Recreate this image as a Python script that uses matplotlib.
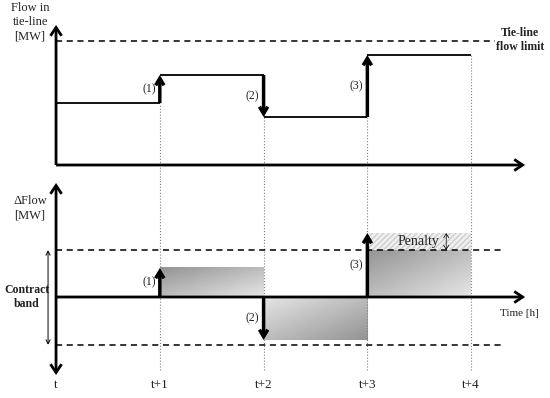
import numpy as np
import matplotlib
matplotlib.use("Agg")
import matplotlib.pyplot as plt
from matplotlib.patches import FancyArrowPatch

plt.rcParams['font.family'] = ['Liberation Serif', 'DejaVu Serif']
plt.rcParams['text.color'] = '#222222'

# ==== data ====
times = [0, 1, 2, 3, 4]
tick_labels = ['t', 't+1', 't+2', 't+3', 't+4']
flow = [6.2, 9.0, 4.8, 11.0]          # flow in tie-line per interval
flow_limit = 12.4
delta = [2.9, -4.3, 6.4]              # change of flow at t+1, t+2, t+3
band_hi, band_lo = 4.7, -4.8          # contract band
step_labels = ['(1)', '(2)', '(3)']

fig = plt.figure(figsize=(5.5, 3.98), dpi=100)
top = fig.add_axes([0, 218/398, 1, 180/398])
bot = fig.add_axes([0, 0, 1, 218/398])
for a in (top, bot):
    a.axis('off')


def arrow(ax, p0, p1, lw=2.5, style='->', hl=0.5, hw=0.3, ms=10):
    ax.add_patch(FancyArrowPatch(p0, p1, arrowstyle=f'{style},head_length={hl},head_width={hw}',
                                 mutation_scale=ms, lw=lw, color='black', zorder=5,
                                 shrinkA=0, shrinkB=0, capstyle='butt', joinstyle='miter'))


# ---- top panel: flow in tie-line ----
arrow(top, (0, 0), (0, 14.0), lw=2, hl=0.6, hw=0.4)
arrow(top, (0, 0), (4.52, 0), lw=2, hl=0.6, hw=0.4)
top.hlines(flow_limit, 0, 4.23, colors='black', linestyles=(0, (4, 3)), lw=1.1)
top.text(4.47, flow_limit + 0.1, 'Tie-line\nflow limit', ha='center', va='center',
         fontsize=8.5, fontweight='bold', linespacing=1.15)
top.text(-0.25, 14.3, 'Flow in\ntie-line\n[MW]', ha='center', va='center',
         fontsize=9, linespacing=1.25)

for i in range(1, 5):
    top.vlines(times[i], -1.5, flow[i-1], colors='gray', linestyles=':', lw=0.8)
    bot.vlines(times[i], -7.3, 11.7, colors='gray', linestyles=':', lw=0.8)

for i in range(4):
    top.hlines(flow[i], times[i], times[i+1], colors='black', lw=1.3)
for i in range(1, 4):
    arrow(top, (times[i], flow[i-1]), (times[i], flow[i]))
    top.text(times[i] - 0.04, (flow[i-1] + flow[i]) / 2, step_labels[i-1],
             ha='right', va='center', fontsize=8.5)

# ---- bottom panel: delta flow ----
def grad_box(ax, x0, x1, y0, y1, positive):
    xs = np.linspace(0, 1, 60)
    ys = np.linspace(0, 1, 30)
    X, Y = np.meshgrid(xs, ys)
    if positive:
        v = 0.5 * (X + (1 - Y))
    else:
        v = 0.5 * ((1 - X) + Y)
    ax.imshow(0.58 + 0.32 * v, cmap='gray', vmin=0, vmax=1, origin='lower',
              extent=(x0, x1, y0, y1), aspect='auto', interpolation='bilinear', zorder=1)

for i in range(3):
    d = delta[i]
    top_y = min(d, band_hi) if d > 0 else 0
    low_y = 0 if d > 0 else d
    grad_box(bot, times[i+1], times[i+2], low_y, top_y, d > 0)

# penalty region above the band
bot.fill_between([times[3], times[4]], band_hi, delta[2], facecolor='#f0f0f0',
                 edgecolor='#cdcdcd', hatch='//////', lw=0, zorder=1)
bot.text(3.49, (band_hi + delta[2]) / 2, 'Penalty', ha='center', va='center',
         fontsize=10, zorder=3)
arrow(bot, (3.76, band_hi), (3.76, delta[2]), lw=0.5, style='<->', hl=0.4, hw=0.25, ms=8)

bot.set_xlim(-0.54, 4.76); bot.set_ylim(-10.1, 11.7)
top.set_xlim(-0.54, 4.76); top.set_ylim(-1.5, 16.5)

bot.hlines([band_hi, band_lo], 0, 4.33, colors='black', linestyles=(0, (4, 3)), lw=1.1, zorder=2)
arrow(bot, (0, -7.8), (0, 11.4), lw=2, style='<->', hl=0.6, hw=0.4)
arrow(bot, (0, 0), (4.52, 0), lw=2, hl=0.6, hw=0.4)
bot.text(4.47, -1.6, 'Time [h]', ha='center', va='center', fontsize=8)
bot.text(-0.25, 8.9, '\u0394Flow\n[MW]', ha='center', va='center', fontsize=9, linespacing=1.25)
bot.text(-0.28, 0, 'Contract\nband', ha='center', va='center', fontsize=8.5,
         fontweight='bold', linespacing=1.25)
arrow(bot, (-0.077, band_lo), (-0.077, band_hi), lw=0.7, style='<->', hl=0.4, hw=0.2, ms=8)

for i in range(1, 4):
    arrow(bot, (times[i], 0), (times[i], delta[i-1]))
    bot.text(times[i] - 0.04, delta[i-1] / 2, step_labels[i-1],
             ha='right', va='center', fontsize=8.5, zorder=3)

for x, lab in zip(times, tick_labels):
    bot.text(x, -8.8, lab, ha='center', va='center', fontsize=9.5)

fig.savefig('out.png', dpi=100)
